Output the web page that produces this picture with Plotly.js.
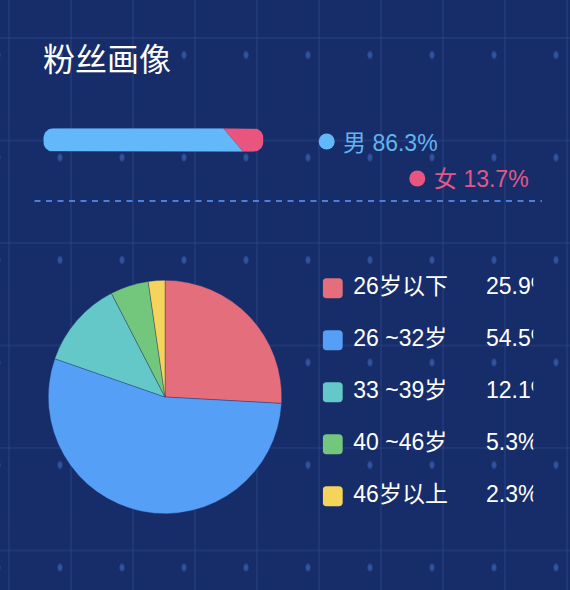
<!DOCTYPE html>
<html>
<head>
<meta charset="utf-8">
<script src="https://cdn.plot.ly/plotly-3.0.1.min.js"></script>
<style>
  html, body { margin: 0; padding: 0; width: 570px; height: 590px; overflow: hidden; background: #172d69; }
  #bg {
    position: absolute; left: 0; top: 0; width: 570px; height: 590px;
    background-color: #172d69;
    background-image:
      radial-gradient(ellipse 3px 4.5px at 31px 51px, rgba(62,100,182,0.8) 0, rgba(62,100,182,0.55) 70%, rgba(62,100,182,0) 100%),
      linear-gradient(to right, rgba(44,72,140,0.38) 0, rgba(44,72,140,0.38) 2px, rgba(0,0,0,0) 2px),
      linear-gradient(to bottom, rgba(44,72,140,0.38) 0, rgba(44,72,140,0.38) 2px, rgba(0,0,0,0) 2px);
    background-size: 62px 102.5px, 62px 102.5px, 62px 102.5px;
    background-position: 29px 4px, 8px 37px, 8px 37px;
  }
  #chart { position: absolute; left: 0; top: 0; width: 570px; height: 590px; }
</style>
</head>
<body>
<div id="bg"></div>
<div id="chart"></div>
<script>
// ---- data ----
const titleText = '粉丝画像';
const genderLabels = ['男', '女'];
const genderValues = [86.3, 13.7];
const genderColors = ['#62b8f8', '#ea5580'];
const genderTextColors = ['#62b3f0', '#e2588a'];

const ageLabels = ['26岁以下', '26 ~32岁', '33 ~39岁', '40 ~46岁', '46岁以上'];
const ageValues = [25.9, 54.5, 12.1, 5.3, 2.3];
const ageColors = ['#e46e7c', '#569ff6', '#64c8c9', '#73c77c', '#f6d35a'];

// ---- layout helpers (page is 570x590, margins 0) ----
const PW = 570, PH = 590;
const px = v => v / PW;
const py = v => (PH - v) / PH;
const FONT = '"Noto Sans CJK SC", "Noto Sans", sans-serif';
const FONT_MIX = '"Liberation Sans", "Noto Sans CJK SC", sans-serif';

// gender bar subplot geometry
const barL = 43.3, barR = 263.5, barT = 128.3, barB = 151.7;
const barWpx = barR - barL, barHpx = barB - barT;
const rPx = 10;
const rx = rPx / barWpx * 100, ry = rPx / barHpx;
const slant = 4.5; // half-width of slanted edge in axis units

function arc(cx, cy, a0, a1, xs, ys) {
  const N = 14;
  for (let k = 0; k <= N; k++) {
    const a = (a0 + (a1 - a0) * k / N) * Math.PI / 180;
    xs.push(cx + rx * Math.cos(a));
    ys.push(cy + ry * Math.sin(a));
  }
}
const total = genderValues[0] + genderValues[1];
const split = genderValues[0] / total * 100;

// male part
const mx = [], my = [];
mx.push(rx); my.push(1);
mx.push(split - slant); my.push(1);
mx.push(split + slant); my.push(0);
mx.push(rx); my.push(0);
arc(rx, ry, 270, 180, mx, my);
arc(rx, 1 - ry, 180, 90, mx, my);
// female part
const fx = [], fy = [];
fx.push(split - slant); fy.push(1);
fx.push(100 - rx); fy.push(1);
arc(100 - rx, 1 - ry, 90, 0, fx, fy);
arc(100 - rx, ry, 0, -90, fx, fy);
fx.push(split + slant); fy.push(0);

const traces = [
  { type: 'scatter', x: mx, y: my, mode: 'lines', fill: 'toself', fillcolor: genderColors[0],
    line: { width: 0, color: genderColors[0] }, xaxis: 'x', yaxis: 'y', hoverinfo: 'skip' },
  { type: 'scatter', x: fx, y: fy, mode: 'lines', fill: 'toself', fillcolor: genderColors[1],
    line: { width: 0, color: genderColors[1] }, xaxis: 'x', yaxis: 'y', hoverinfo: 'skip' },
  { type: 'pie', values: ageValues, labels: ageLabels, sort: false, direction: 'clockwise', rotation: 0,
    marker: { colors: ageColors, line: { color: 'rgba(25,45,100,0.6)', width: 0.6 } },
    textinfo: 'none', hoverinfo: 'label+percent',
    domain: { x: [px(48.3), px(281.7)], y: [py(514), py(280)] } },
  { type: 'scatter', mode: 'text', x: ageLabels.map(() => 30.6), y: ageLabels.map((_, i) => i),
    text: ageLabels, textposition: 'middle right', cliponaxis: true,
    textfont: { family: FONT_MIX, size: 23, color: '#ffffff' }, xaxis: 'x2', yaxis: 'y2', hoverinfo: 'skip' },
  { type: 'scatter', mode: 'text', x: ageValues.map(() => 163.3), y: ageValues.map((_, i) => i),
    text: ageValues.map(v => v.toFixed(1) + '%'), textposition: 'middle right', cliponaxis: true,
    textfont: { family: FONT_MIX, size: 23, color: '#ffffff' }, xaxis: 'x2', yaxis: 'y2', hoverinfo: 'skip' }
];

const hidden = { visible: false, fixedrange: true };
const shapes = [];
// age swatches (rounded squares, pixel sized)
ageColors.forEach((c, i) => {
  shapes.push({ type: 'path', xref: 'x2', yref: 'y2', xsizemode: 'pixel', ysizemode: 'pixel',
    xanchor: 0, yanchor: i,
    path: 'M4,10 L16,10 Q20,10 20,6 L20,-6 Q20,-10 16,-10 L4,-10 Q0,-10 0,-6 L0,6 Q0,10 4,10 Z',
    fillcolor: c, line: { width: 0 } });
});
// gender legend dots
const gDots = [[326.7, 141.5], [417.3, 178.5]];
gDots.forEach((p, i) => {
  shapes.push({ type: 'circle', xref: 'paper', yref: 'paper', xsizemode: 'pixel', ysizemode: 'pixel',
    xanchor: px(p[0]), yanchor: py(p[1]), x0: -8, x1: 8, y0: -8, y1: 8,
    fillcolor: genderColors[i], line: { width: 0 } });
});
// dashed separator
shapes.push({ type: 'line', xref: 'paper', yref: 'paper', x0: px(34.5), x1: px(542), y0: py(201), y1: py(201),
  line: { color: '#4a80dc', width: 2, dash: '6px,5.5px' } });

const gTextPos = [[341, 142.5], [432, 179]];
const annotations = [
  { text: titleText, xref: 'paper', yref: 'paper', x: px(41), y: py(57), xanchor: 'left', yanchor: 'middle',
    showarrow: false, font: { family: FONT, size: 32, color: '#ffffff' } },
  ...genderLabels.map((g, i) => ({
    text: g + ' ' + genderValues[i].toFixed(1) + '%', xref: 'paper', yref: 'paper',
    x: px(gTextPos[i][0]), y: py(gTextPos[i][1]), xanchor: 'left', yanchor: 'middle', showarrow: false,
    font: { family: FONT_MIX, size: 23, color: genderTextColors[i] } }))
];

const layout = {
  width: PW, height: PH, margin: { l: 0, r: 0, t: 0, b: 0, pad: 0 },
  paper_bgcolor: 'rgba(0,0,0,0)', plot_bgcolor: 'rgba(0,0,0,0)',
  showlegend: false,
  font: { family: FONT },
  xaxis: Object.assign({ domain: [px(barL), px(barR)], range: [0, 100] }, hidden),
  yaxis: Object.assign({ domain: [py(barB), py(barT)], range: [0, 1] }, hidden),
  xaxis2: Object.assign({ domain: [px(322.7), px(533.3)], range: [0, 210.6], anchor: 'y2' }, hidden),
  yaxis2: Object.assign({ domain: [py(522.3), py(262.3)], range: [4.5, -0.5], anchor: 'x2' }, hidden),
  shapes: shapes,
  annotations: annotations
};

Plotly.newPlot('chart', traces, layout, { displayModeBar: false, staticPlot: false });
</script>
</body>
</html>
